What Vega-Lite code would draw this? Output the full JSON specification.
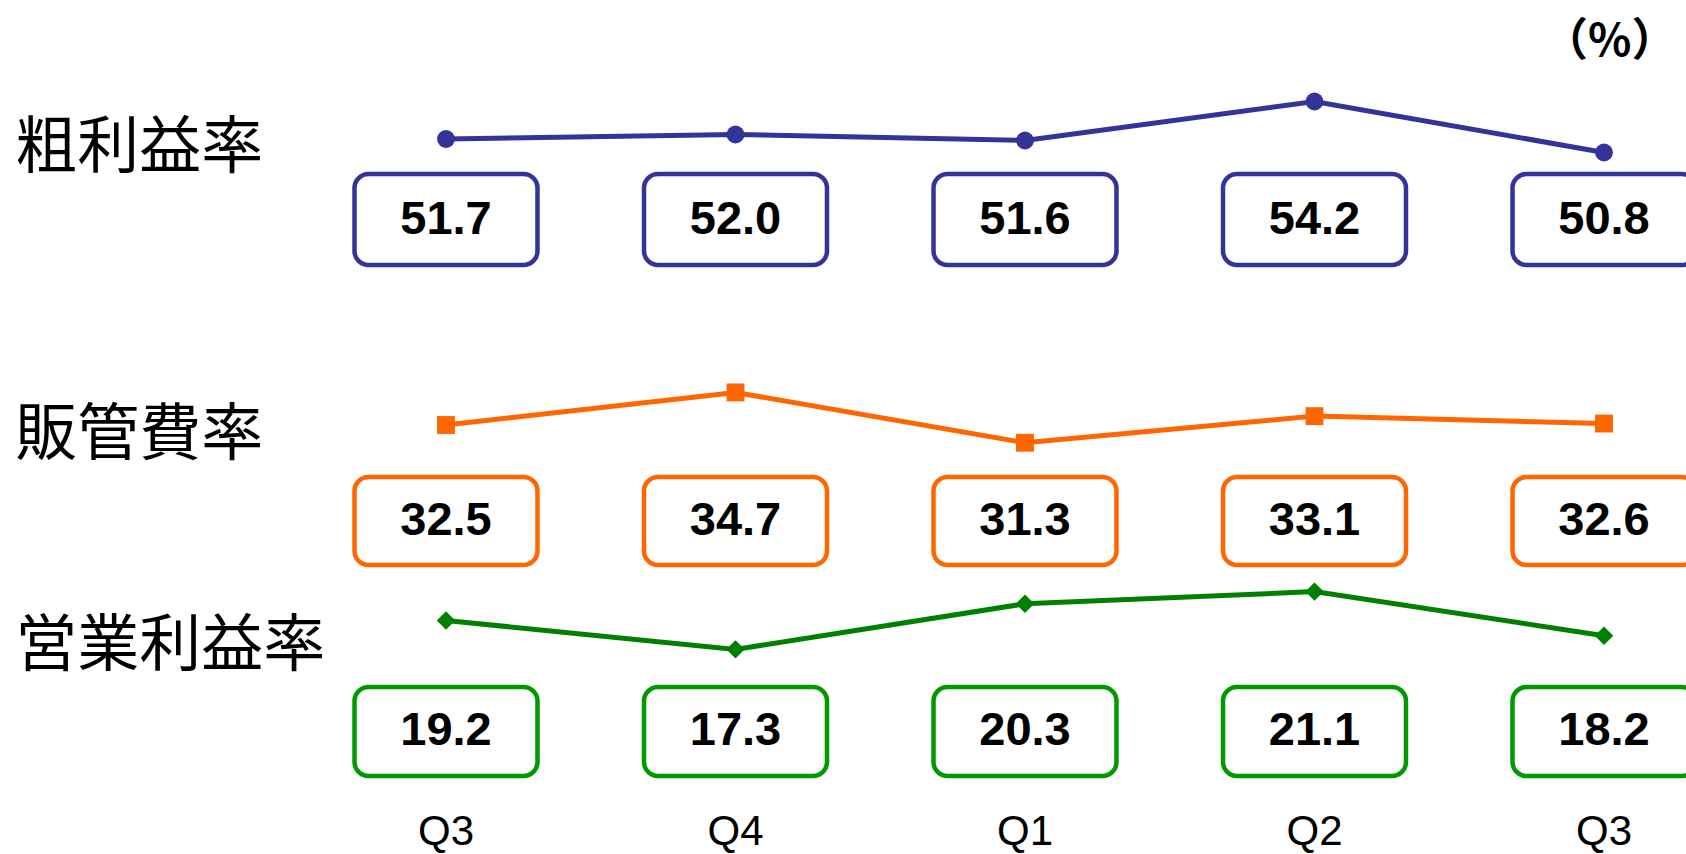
{
  "$schema": "https://vega.github.io/schema/vega-lite/v6.json",
  "width": 1686,
  "height": 854,
  "padding": 0,
  "autosize": {"type": "none"},
  "background": "white",
  "config": {"view": {"stroke": null}},
  "data": {
    "values": [
      {"metric": "粗利益率", "period": "前期Q3", "quarter": "Q3", "value": 51.7},
      {"metric": "粗利益率", "period": "前期Q4", "quarter": "Q4", "value": 52.0},
      {"metric": "粗利益率", "period": "当期Q1", "quarter": "Q1", "value": 51.6},
      {"metric": "粗利益率", "period": "当期Q2", "quarter": "Q2", "value": 54.2},
      {"metric": "粗利益率", "period": "当期Q3", "quarter": "Q3", "value": 50.8},
      {"metric": "販管費率", "period": "前期Q3", "quarter": "Q3", "value": 32.5},
      {"metric": "販管費率", "period": "前期Q4", "quarter": "Q4", "value": 34.7},
      {"metric": "販管費率", "period": "当期Q1", "quarter": "Q1", "value": 31.3},
      {"metric": "販管費率", "period": "当期Q2", "quarter": "Q2", "value": 33.1},
      {"metric": "販管費率", "period": "当期Q3", "quarter": "Q3", "value": 32.6},
      {"metric": "営業利益率", "period": "前期Q3", "quarter": "Q3", "value": 19.2},
      {"metric": "営業利益率", "period": "前期Q4", "quarter": "Q4", "value": 17.3},
      {"metric": "営業利益率", "period": "当期Q1", "quarter": "Q1", "value": 20.3},
      {"metric": "営業利益率", "period": "当期Q2", "quarter": "Q2", "value": 21.1},
      {"metric": "営業利益率", "period": "当期Q3", "quarter": "Q3", "value": 18.2}
    ]
  },
  "resolve": {"scale": {"y": "independent"}},
  "layer": [
    {
      "transform": [{"filter": "datum.metric == '粗利益率'"}],
      "encoding": {
        "x": {"field": "period", "type": "nominal", "axis": null, "sort": null,
              "scale": {"type": "band", "domain": ["項目", "前期Q3", "前期Q4", "当期Q1", "当期Q2", "当期Q3"], "range": [11.75, 1748.75], "paddingInner": 0, "paddingOuter": 0}},
        "y": {"field": "value", "type": "quantitative", "axis": null,
              "scale": {"domain": [4.033, 60.967], "nice": false, "zero": false}}
      },
      "layer": [
        {"mark": {"type": "line", "color": "#333399", "strokeWidth": 5}},
        {"mark": {"type": "point", "shape": "circle", "filled": true, "opacity": 1, "size": 320, "color": "#333399"}},
        {"mark": {"type": "rect", "fill": "white", "stroke": "#333399", "strokeWidth": 4.5, "cornerRadius": 14, "width": {"band": 0.632}},
         "encoding": {"y": {"datum": 49.367, "type": "quantitative"}, "y2": {"datum": 43.3}}},
        {"mark": {"type": "text", "font": "Liberation Sans", "fontWeight": "bold", "fontSize": 47, "color": "black", "baseline": "middle", "align": "center"},
         "encoding": {"y": {"datum": 46.33, "type": "quantitative"}, "text": {"field": "value", "type": "quantitative", "format": ".1f"}}},
        {"transform": [{"filter": "datum.period == '前期Q3'"}],
         "mark": {"type": "text", "font": "Noto Sans CJK JP", "fontSize": 62, "color": "black", "baseline": "middle", "align": "left"},
         "encoding": {"x": {"datum": "項目", "bandPosition": 0.012}, "y": {"datum": 51.033, "type": "quantitative"}, "text": {"field": "metric"}}},
        {"transform": [{"filter": "datum.period == '当期Q3'"}],
         "mark": {"type": "text", "font": "Noto Sans CJK JP", "fontWeight": "bold", "fontSize": 45, "color": "black", "baseline": "middle", "align": "center"},
         "encoding": {"x": {"datum": "当期Q3", "bandPosition": 0.52}, "y": {"datum": 58.2, "type": "quantitative"}, "text": {"value": "（%）"}}}
      ]
    },
    {
      "transform": [{"filter": "datum.metric == '販管費率'"}],
      "encoding": {
        "x": {"field": "period", "type": "nominal", "axis": null, "sort": null,
              "scale": {"type": "band", "domain": ["項目", "前期Q3", "前期Q4", "当期Q1", "当期Q2", "当期Q3"], "range": [11.75, 1748.75], "paddingInner": 0, "paddingOuter": 0}},
        "y": {"field": "value", "type": "quantitative", "axis": null,
              "scale": {"domain": [3.514, 61.216], "nice": false, "zero": false}}
      },
      "layer": [
        {"mark": {"type": "line", "color": "#FF6600", "strokeWidth": 5}},
        {"mark": {"type": "point", "shape": "square", "filled": true, "opacity": 1, "size": 320, "color": "#FF6600"}},
        {"mark": {"type": "rect", "fill": "white", "stroke": "#FF6600", "strokeWidth": 4.5, "cornerRadius": 14, "width": {"band": 0.632}},
         "encoding": {"y": {"datum": 28.986, "type": "quantitative"}, "y2": {"datum": 23.04}}},
        {"mark": {"type": "text", "font": "Liberation Sans", "fontWeight": "bold", "fontSize": 47, "color": "black", "baseline": "middle", "align": "center"},
         "encoding": {"y": {"datum": 26.01, "type": "quantitative"}, "text": {"field": "value", "type": "quantitative", "format": ".1f"}}},
        {"transform": [{"filter": "datum.period == '前期Q3'"}],
         "mark": {"type": "text", "font": "Noto Sans CJK JP", "fontSize": 62, "color": "black", "baseline": "middle", "align": "left"},
         "encoding": {"x": {"datum": "項目", "bandPosition": 0.012}, "y": {"datum": 31.757, "type": "quantitative"}, "text": {"field": "metric"}}}
      ]
    },
    {
      "transform": [{"filter": "datum.metric == '営業利益率'"}],
      "encoding": {
        "x": {"field": "period", "type": "nominal", "axis": null, "sort": null,
              "scale": {"type": "band", "domain": ["項目", "前期Q3", "前期Q4", "当期Q1", "当期Q2", "当期Q3"], "range": [11.75, 1748.75], "paddingInner": 0, "paddingOuter": 0}},
        "y": {"field": "value", "type": "quantitative", "axis": null,
              "scale": {"domain": [3.838, 60.02], "nice": false, "zero": false}}
      },
      "layer": [
        {"mark": {"type": "line", "color": "#008000", "strokeWidth": 5}},
        {"mark": {"type": "point", "shape": "diamond", "filled": true, "opacity": 1, "size": 340, "color": "#008000"}},
        {"mark": {"type": "rect", "fill": "white", "stroke": "#009900", "strokeWidth": 4.5, "cornerRadius": 14, "width": {"band": 0.632}},
         "encoding": {"y": {"datum": 14.825, "type": "quantitative"}, "y2": {"datum": 8.97}}},
        {"mark": {"type": "text", "font": "Liberation Sans", "fontWeight": "bold", "fontSize": 47, "color": "black", "baseline": "middle", "align": "center"},
         "encoding": {"y": {"datum": 11.9, "type": "quantitative"}, "text": {"field": "value", "type": "quantitative", "format": ".1f"}}},
        {"transform": [{"filter": "datum.period == '前期Q3'"}],
         "mark": {"type": "text", "font": "Noto Sans CJK JP", "fontSize": 62, "color": "black", "baseline": "middle", "align": "left"},
         "encoding": {"x": {"datum": "項目", "bandPosition": 0.012}, "y": {"datum": 17.457, "type": "quantitative"}, "text": {"field": "metric"}}},
        {"mark": {"type": "text", "font": "Liberation Sans", "fontSize": 42, "color": "black", "baseline": "middle", "align": "center"},
         "encoding": {"y": {"datum": 5.3, "type": "quantitative"}, "text": {"field": "quarter"}}}
      ]
    }
  ]
}
